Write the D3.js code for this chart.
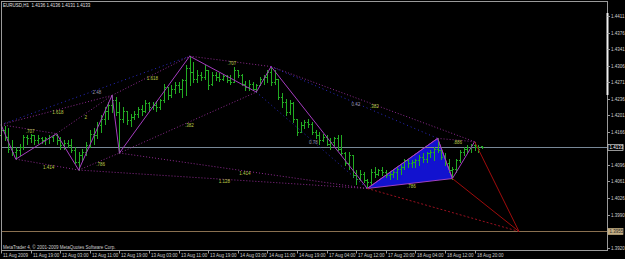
<!DOCTYPE html>
<html>
<head>
<meta charset="utf-8">
<script src="https://cdn.jsdelivr.net/npm/d3@7"></script>
<style>
html, body { margin: 0; padding: 0; background: #000; }
svg { display: block; font-family: "Liberation Sans", Arial, sans-serif; }
</style>
</head>
<body>
<div id="chart"></div>
<script>
// EURUSD H1, one value per bar (bar 0 = 11 Aug 11:00)
const opens = [1.4159,1.4169,1.4155,1.4130,1.4123,1.4127,1.4134,1.4155,1.4152,1.4159,
  1.4148,1.4153,1.4148,1.4152,1.4155,1.4159,1.4148,1.4137,1.4143,1.4137,
  1.4127,1.4102,1.4116,1.4123,1.4137,1.4162,1.4159,1.4180,1.4194,1.4211,
  1.4222,1.4233,1.4208,1.4194,1.4211,1.4190,1.4197,1.4204,1.4215,1.4211,
  1.4226,1.4219,1.4223,1.4219,1.4233,1.4261,1.4243,1.4257,1.4264,1.4257,
  1.4275,1.4300,1.4293,1.4278,1.4286,1.4282,1.4296,1.4268,1.4286,1.4282,
  1.4278,1.4284,1.4275,1.4271,1.4296,1.4286,1.4268,1.4261,1.4268,1.4257,
  1.4264,1.4278,1.4282,1.4293,1.4271,1.4278,1.4240,1.4229,1.4208,1.4226,
  1.4194,1.4166,1.4180,1.4187,1.4183,1.4166,1.4159,1.4148,1.4155,1.4141,
  1.4145,1.4152,1.4130,1.4120,1.4099,1.4116,1.4074,1.4067,1.4077,1.4063,
  1.4060,1.4081,1.4077,1.4085,1.4081,1.4074,1.4077,1.4081,1.4088,1.4092,
  1.4106,1.4099,1.4102,1.4106,1.4113,1.4109,1.4120,1.4123,1.4130,1.4127,
  1.4113,1.4099,1.4085,1.4088,1.4106,1.4123,1.4130,1.4134,1.4137,1.4134,
  1.4136];
const highs = [1.4181,1.4178,1.4173,1.4148,1.4134,1.4141,1.4160,1.4159,1.4161,1.4159,
  1.4159,1.4155,1.4155,1.4159,1.4159,1.4162,1.4155,1.4148,1.4148,1.4150,
  1.4134,1.4123,1.4130,1.4145,1.4169,1.4173,1.4187,1.4201,1.4219,1.4229,
  1.4243,1.4240,1.4229,1.4219,1.4211,1.4204,1.4209,1.4219,1.4222,1.4233,
  1.4229,1.4229,1.4231,1.4236,1.4268,1.4261,1.4264,1.4271,1.4271,1.4278,
  1.4307,1.4326,1.4314,1.4296,1.4293,1.4307,1.4296,1.4293,1.4293,1.4291,
  1.4289,1.4287,1.4286,1.4303,1.4296,1.4289,1.4273,1.4275,1.4271,1.4268,
  1.4282,1.4286,1.4296,1.4304,1.4296,1.4278,1.4247,1.4236,1.4233,1.4229,
  1.4194,1.4187,1.4190,1.4194,1.4187,1.4169,1.4166,1.4162,1.4159,1.4152,
  1.4155,1.4159,1.4159,1.4123,1.4123,1.4116,1.4085,1.4085,1.4081,1.4067,
  1.4088,1.4092,1.4088,1.4092,1.4085,1.4081,1.4085,1.4092,1.4095,1.4109,
  1.4109,1.4106,1.4109,1.4116,1.4120,1.4123,1.4127,1.4134,1.4152,1.4130,
  1.4120,1.4109,1.4092,1.4109,1.4127,1.4134,1.4137,1.4141,1.4145,1.4137,
  1.4136];
const lows = [1.4150,1.4148,1.4123,1.4116,1.4108,1.4116,1.4130,1.4141,1.4145,1.4141,
  1.4143,1.4143,1.4141,1.4143,1.4146,1.4141,1.4130,1.4130,1.4134,1.4123,
  1.4099,1.4085,1.4106,1.4116,1.4134,1.4141,1.4152,1.4166,1.4183,1.4194,
  1.4208,1.4201,1.4121,1.4187,1.4183,1.4178,1.4194,1.4197,1.4201,1.4208,
  1.4211,1.4215,1.4211,1.4215,1.4229,1.4236,1.4240,1.4247,1.4250,1.4240,
  1.4243,1.4264,1.4271,1.4271,1.4275,1.4278,1.4257,1.4264,1.4275,1.4273,
  1.4275,1.4271,1.4268,1.4271,1.4282,1.4264,1.4254,1.4254,1.4254,1.4250,
  1.4264,1.4268,1.4271,1.4264,1.4268,1.4236,1.4219,1.4201,1.4204,1.4187,
  1.4159,1.4166,1.4173,1.4176,1.4162,1.4152,1.4141,1.4146,1.4137,1.4130,
  1.4137,1.4127,1.4116,1.4095,1.4088,1.4070,1.4056,1.4063,1.4060,1.4046,
  1.4056,1.4070,1.4074,1.4074,1.4070,1.4067,1.4070,1.4067,1.4077,1.4088,
  1.4092,1.4092,1.4092,1.4095,1.4102,1.4102,1.4113,1.4106,1.4123,1.4109,
  1.4095,1.4081,1.4067,1.4081,1.4102,1.4116,1.4123,1.4123,1.4127,1.4123,
  1.4131];
const closes = [1.4169,1.4155,1.4130,1.4123,1.4127,1.4134,1.4155,1.4152,1.4159,1.4148,
  1.4153,1.4148,1.4152,1.4155,1.4159,1.4148,1.4137,1.4143,1.4137,1.4127,
  1.4102,1.4116,1.4123,1.4137,1.4162,1.4159,1.4180,1.4194,1.4211,1.4222,
  1.4233,1.4208,1.4194,1.4211,1.4190,1.4197,1.4204,1.4215,1.4211,1.4226,
  1.4219,1.4223,1.4219,1.4233,1.4261,1.4243,1.4257,1.4264,1.4257,1.4275,
  1.4300,1.4293,1.4278,1.4286,1.4282,1.4296,1.4264,1.4286,1.4282,1.4278,
  1.4284,1.4275,1.4271,1.4296,1.4286,1.4268,1.4261,1.4268,1.4257,1.4264,
  1.4278,1.4282,1.4293,1.4271,1.4278,1.4240,1.4229,1.4208,1.4226,1.4194,
  1.4166,1.4180,1.4187,1.4183,1.4166,1.4159,1.4148,1.4155,1.4141,1.4145,
  1.4152,1.4130,1.4120,1.4099,1.4116,1.4074,1.4067,1.4077,1.4063,1.4060,
  1.4081,1.4077,1.4085,1.4081,1.4074,1.4077,1.4081,1.4088,1.4092,1.4106,
  1.4099,1.4102,1.4106,1.4113,1.4109,1.4120,1.4123,1.4130,1.4127,1.4113,
  1.4099,1.4085,1.4088,1.4106,1.4123,1.4130,1.4134,1.4137,1.4134,1.4130,
  1.4133];

const timeLabels = ['11 Aug 2009','11 Aug 19:00','12 Aug 03:00','12 Aug 11:00','12 Aug 19:00',
  '13 Aug 03:00','13 Aug 11:00','13 Aug 19:00','14 Aug 03:00','14 Aug 11:00','14 Aug 19:00',
  '17 Aug 04:00','17 Aug 12:00','17 Aug 20:00','18 Aug 04:00','18 Aug 12:00','18 Aug 20:00'];
const labelEvery = 8;
const priceTicks = [1.4411,1.4376,1.4341,1.4306,1.4271,1.4236,1.4201,1.4166,1.4096,1.4061,1.4026,1.3990,1.3920];

// zigzag pivots (bar index / price)
const pivotBars = [0,4,15,21,30,32,51,69,73,99,118,122,128];
const pivotPrices = [1.4181,1.4108,1.4162,1.4085,1.4243,1.4121,1.4326,1.4250,1.4304,1.4046,1.4152,1.4067,1.4145];
// [from pivot, to pivot, ratio]
const retracements = [[0,2,'.707'],[1,3,'1.414'],[0,4,'1.618'],[2,4,'2'],[3,5,'.786'],[4,6,'1.618'],
  [5,7,'.382'],[6,8,'.707'],[3,9,'1.128'],[5,9,'1.414'],[8,12,'.382'],[10,12,'.886']];
const timeRatios = [[0,6,'2.48'],[7,9,'0.78'],[8,10,'0.42']];
const triangle = [9,10,11];
const triangleRatio = '.786';
const targetBar = 140, targetPrice = 1.3955;
const bidPrice = 1.4133;
const title = 'EURUSD,H1  1.4136 1.4136 1.4131 1.4133';

const W = 625, H = 259;
const plot = { left: 1.5, top: 1.5, right: 607.5, bottom: 250.5 };
const fs = 4.5;

const x = d3.scaleLinear().domain([0, 130]).range([1, 482]);
const y = d3.scaleLinear().domain([1.3920, 1.4411]).range([248, 16]);
const px = i => x(pivotBars[i]);
const py = i => y(pivotPrices[i]);

const svg = d3.select('#chart').append('svg')
  .attr('width', W).attr('height', H)
  .style('background', '#000');

// blue triangle behind the bars
svg.append('path')
  .attr('d', 'M' + triangle.map(i => px(i) + ',' + py(i)).join('L') + 'Z')
  .attr('fill', '#1212cf')
  .attr('stroke', '#a040c0').attr('stroke-width', 1);

// bid and target lines
svg.append('line').attr('x1', plot.left).attr('x2', plot.right)
  .attr('y1', Math.round(y(bidPrice)) + 0.5).attr('y2', Math.round(y(bidPrice)) + 0.5)
  .attr('stroke', '#788898');
svg.append('line').attr('x1', plot.left).attr('x2', plot.right)
  .attr('y1', Math.round(y(targetPrice)) + 0.5).attr('y2', Math.round(y(targetPrice)) + 0.5)
  .attr('stroke', '#8a7050');

// OHLC bars
const bars = closes.map((c, i) => ({ i, o: opens[i], h: highs[i], l: lows[i], c }));
svg.append('g').attr('stroke', '#22ab22').attr('stroke-width', 1).attr('fill', 'none')
  .selectAll('path').data(bars).enter().append('path')
  .attr('d', d => {
    const cx = Math.round(x(d.i)) + 0.5;
    const yo = Math.round(y(d.o)) + 0.5, yc = Math.round(y(d.c)) + 0.5;
    return `M${cx},${Math.round(y(d.h))}V${Math.round(y(d.l)) + 1}M${cx - 1.5},${yo}H${cx}M${cx},${yc}H${cx + 1.5}`;
  });

// dotted retracement lines
svg.append('g').selectAll('line').data(retracements).enter().append('line')
  .attr('x1', d => px(d[0])).attr('y1', d => py(d[0]))
  .attr('x2', d => px(d[1])).attr('y2', d => py(d[1]))
  .attr('stroke', '#8e2a90').attr('stroke-width', 1).attr('stroke-dasharray', '1,2');
svg.append('g').selectAll('line').data(timeRatios).enter().append('line')
  .attr('x1', d => px(d[0])).attr('y1', d => py(d[0]))
  .attr('x2', d => px(d[1])).attr('y2', d => py(d[1]))
  .attr('stroke', '#2a2ac8').attr('stroke-width', 1).attr('stroke-dasharray', '1,3');

// zigzag
svg.append('path')
  .attr('d', d3.line()(pivotBars.map((b, i) => [px(i), py(i)])))
  .attr('fill', 'none').attr('stroke', '#a63cc0').attr('stroke-width', 1);

// projection to target
const red = svg.append('g');
[11, 12].forEach(i => red.append('line')
  .attr('x1', px(i)).attr('y1', py(i)).attr('x2', x(targetBar)).attr('y2', y(targetPrice))
  .attr('stroke', '#a00c0c'));
red.append('line')
  .attr('x1', px(9)).attr('y1', py(9)).attr('x2', x(targetBar)).attr('y2', y(targetPrice))
  .attr('stroke', '#9a1020').attr('stroke-dasharray', '2,2');

// ratio labels
const lbl = svg.append('g').attr('font-size', fs).attr('text-anchor', 'middle');
lbl.selectAll('text.r').data(retracements.concat([[9, 11, triangleRatio]])).enter().append('text')
  .attr('x', d => (px(d[0]) + px(d[1])) / 2 + 1.5)
  .attr('y', d => (py(d[0]) + py(d[1])) / 2 + 4)
  .attr('fill', '#bccb48').text(d => d[2]);
lbl.selectAll('text.t').data(timeRatios).enter().append('text')
  .attr('x', d => (px(d[0]) + px(d[1])) / 2 + 1.5)
  .attr('y', d => (py(d[0]) + py(d[1])) / 2 + 4)
  .attr('fill', '#9a9aaa').text(d => d[2]);

// frame
svg.append('rect').attr('x', plot.left).attr('y', plot.top)
  .attr('width', plot.right - plot.left).attr('height', plot.bottom - plot.top)
  .attr('fill', 'none').attr('stroke', '#9a9a9a');
svg.append('line').attr('x1', plot.right).attr('x2', plot.right).attr('y1', 13).attr('y2', 95)
  .attr('stroke', '#f0f0f0').attr('stroke-width', 2);

// price axis
const ya = svg.append('g').attr('font-size', fs).attr('fill', '#d0d0d0');
priceTicks.forEach(p => {
  const yy = Math.round(y(p)) + 0.5;
  ya.append('line').attr('x1', plot.right).attr('x2', plot.right + 2.5).attr('y1', yy).attr('y2', yy).attr('stroke', '#9a9a9a');
  ya.append('text').attr('x', 611).attr('y', yy + 1.6).text(p.toFixed(4));
});
const boxes = [[bidPrice, '#000', '#d8d8d8', '#ffffff'], [targetPrice, '#c4ae84', '#c4ae84', '#222']];
boxes.forEach(([p, fill, stroke, color]) => {
  const yy = Math.round(y(p)) + 0.5;
  ya.append('rect').attr('x', 608).attr('y', yy - 3).attr('width', 15).attr('height', 6)
    .attr('fill', fill).attr('stroke', stroke).attr('stroke-width', 0.7);
  ya.append('text').attr('x', 609.5).attr('y', yy + 1.6).attr('fill', color).text(p.toFixed(4));
});

// time axis
const xa = svg.append('g').attr('font-size', fs).attr('fill', '#d0d0d0');
timeLabels.forEach((t, k) => {
  const xx = Math.round(x(k * labelEvery)) + 0.5;
  xa.append('line').attr('x1', xx).attr('x2', xx).attr('y1', plot.bottom).attr('y2', plot.bottom + 3).attr('stroke', '#9a9a9a');
  xa.append('text').attr('x', xx + 1.5).attr('y', 256.5).text(t);
});

// texts
svg.append('text').attr('x', 3).attr('y', 7).attr('font-size', fs).attr('fill', '#e0e0e0')
  .attr('xml:space', 'preserve').text(title);
svg.append('text').attr('x', 3).attr('y', 249).attr('font-size', fs).attr('fill', '#d0d0d0')
  .text('MetaTrader 4, © 2001-2009 MetaQuotes Software Corp.');
</script>
</body>
</html>
